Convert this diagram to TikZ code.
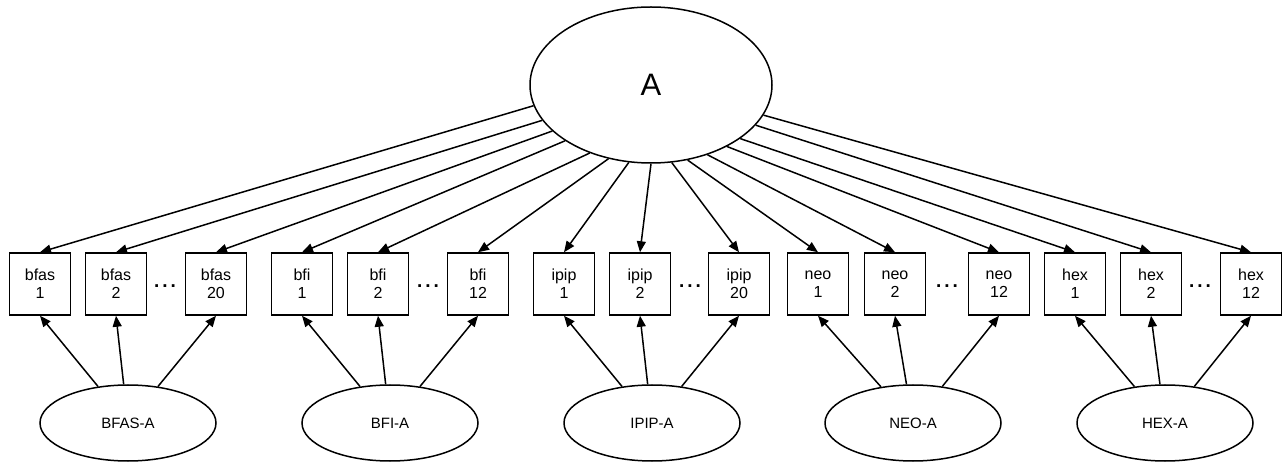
\documentclass[tikz,border=0pt]{standalone}
\usepackage{fontspec}
\setmainfont{Liberation Sans}
\usetikzlibrary{shapes.geometric,arrows.meta}
\begin{document}
\begin{tikzpicture}[x=1pt,y=-1pt,
  ind/.style={draw,line width=1.5pt,minimum width=61pt,minimum height=62pt,inner sep=0pt,align=center,font=\fontsize{16}{18}\selectfont},
  lat/.style={draw,line width=1.5pt,ellipse,minimum width=176pt,minimum height=76pt,inner sep=0pt,font=\fontsize{15}{18}\selectfont},
  arr/.style={line width=1.5pt,-{Triangle[length=11pt,width=9pt]}},
  dts/.style={inner sep=0pt,anchor=base,font=\fontsize{19}{24}\bfseries}]
\useasboundingbox (0,0) rectangle (1286,462);
\node[draw,line width=1.5pt,ellipse,minimum width=242pt,minimum height=156pt,inner sep=0pt,font=\fontsize{31}{34}\selectfont] (A) at (651,85) {A};
% indicators
\node[ind] (bfas1) at (40,284) {bfas\\1};
\node[ind] (bfas2) at (116,284) {bfas\\2};
\node[ind] (bfas20) at (216,284) {bfas\\20};
\node[ind] (bfi1) at (302,284) {bfi\\1};
\node[ind] (bfi2) at (378,284) {bfi\\2};
\node[ind] (bfi12) at (478,284) {bfi\\12};
\node[ind] (ipip1) at (564,284) {ipip\\1};
\node[ind] (ipip2) at (640,284) {ipip\\2};
\node[ind] (ipip20) at (739,284) {ipip\\20};
\node[ind] (neo1) at (818,284) {neo\\1};
\node[ind] (neo2) at (895,284) {neo\\2};
\node[ind] (neo12) at (999,284) {neo\\12};
\node[ind] (hex1) at (1075,284) {hex\\1};
\node[ind] (hex2) at (1151,284) {hex\\2};
\node[ind] (hex12) at (1251,284) {hex\\12};
% dots
\node[dts] (d1) at (165,288) {.\hspace{3pt}.\hspace{3pt}.};
\node[dts] (d2) at (428,288) {.\hspace{3pt}.\hspace{3pt}.};
\node[dts] (d3) at (690,288) {.\hspace{3pt}.\hspace{3pt}.};
\node[dts] (d4) at (947,288) {.\hspace{3pt}.\hspace{3pt}.};
\node[dts] (d5) at (1200,288) {.\hspace{3pt}.\hspace{3pt}.};
% method factors
\node[lat] (BFAS) at (128,423) {BFAS-A};
\node[lat] (BFI) at (390,423) {BFI-A};
\node[lat] (IPIP) at (652,423) {IPIP-A};
\node[lat] (NEO) at (913,423) {NEO-A};
\node[lat] (HEX) at (1165,423) {HEX-A};
% general factor loadings
\foreach \ang/\n in {190/bfas1,198/bfas2,205/bfas20,213/bfi1,228/bfi2,240/bfi12,254/ipip1,270/ipip2,285/ipip20,296/neo1,309/neo2,321/neo12,329/hex1,339/hex2,345/hex12}
  \draw[arr] (A.\ang) -- (\n.north);
% method loadings
\foreach \m/\a/\b/\c in {BFAS/bfas1/bfas2/bfas20,BFI/bfi1/bfi2/bfi12,IPIP/ipip1/ipip2/ipip20,NEO/neo1/neo2/neo12,HEX/hex1/hex2/hex12}{
  \draw[arr] (\m) -- (\a.south);
  \draw[arr] (\m) -- (\b.south);
  \draw[arr] (\m) -- (\c.south);
}
\end{tikzpicture}
\end{document}
